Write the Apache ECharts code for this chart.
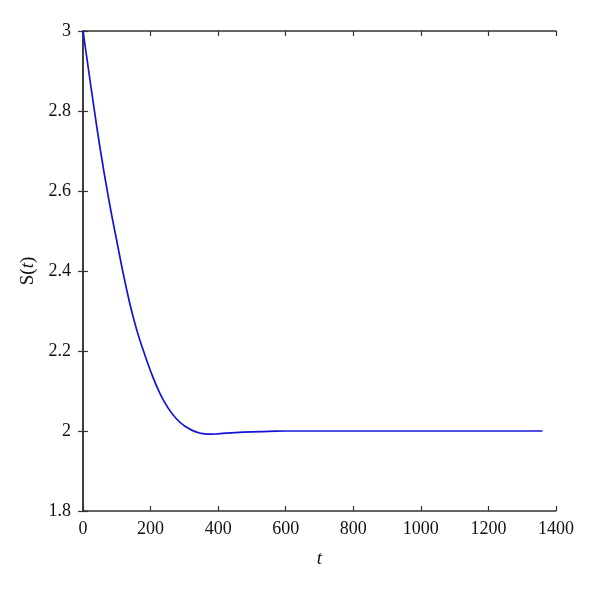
<!DOCTYPE html>
<html>
<head>
<meta charset="utf-8">
<script src="https://cdn.jsdelivr.net/npm/echarts@6/dist/echarts.min.js"></script>
<style>html,body{margin:0;padding:0;background:#fff}#c{width:600px;height:590px}</style>
</head>
<body>
<div id="c"></div>
<script>
const tValues = [0, 25, 50, 75, 100, 125, 150, 175, 200, 225, 250, 275, 300, 325, 350, 370, 400, 450, 500, 550, 600, 650, 700, 800, 900, 1000, 1100, 1200, 1300, 1360];
const sValues = [3.0, 2.852, 2.71, 2.585, 2.475, 2.37, 2.28, 2.21, 2.15, 2.099, 2.06, 2.032, 2.013, 2.001, 1.994, 1.992, 1.993, 1.996, 1.998, 1.999, 2.0, 2.0, 2.0, 2.0, 2.0, 2.0, 2.0, 2.0, 2.0, 2.0];
const xTicks = [0, 200, 400, 600, 800, 1000, 1200, 1400];
const yTicks = [1.8, 2, 2.2, 2.4, 2.6, 2.8, 3];

const data = tValues.map((t, i) => [t, sValues[i]]);
const font = '"Liberation Serif", "DejaVu Serif", serif';
const axisLine = {show: true, lineStyle: {color: '#333', width: 1.5}};
const axisTick = {show: true, inside: true, length: 5, lineStyle: {color: '#333', width: 1.2}};

const chart = echarts.init(document.getElementById('c'));
chart.setOption({
  animation: false,
  backgroundColor: '#fff',
  grid: {left: 83, right: 44, top: 31, bottom: 79},
  xAxis: [{
    type: 'value', min: 0, max: 1400, interval: 200,
    axisLine, axisTick, splitLine: {show: false},
    axisLabel: {fontFamily: font, fontSize: 18, color: '#111', margin: 9,
      formatter: v => xTicks.includes(v) ? String(v) : ''},
    name: 't', nameLocation: 'middle', nameGap: 38,
    nameTextStyle: {fontFamily: font, fontSize: 19, fontStyle: 'italic', color: '#111'}
  }, {
    type: 'value', min: 0, max: 1400, interval: 200, position: 'top',
    axisLine, axisTick, axisLabel: {show: false}, splitLine: {show: false}
  }],
  yAxis: [{
    type: 'value', min: 1.8, max: 3, interval: 0.2,
    axisLine, axisTick, splitLine: {show: false},
    axisLabel: {fontFamily: font, fontSize: 18, color: '#111', margin: 12,
      formatter: v => { const r = Math.round(v * 10) / 10; return yTicks.includes(r) ? String(r) : ''; }},
    name: '{a|S(}{b|t}{a|)}', nameLocation: 'middle', nameGap: 38, nameRotate: 90,
    nameTextStyle: {rich: {
      a: {fontFamily: font, fontSize: 19, color: '#111'},
      b: {fontFamily: font, fontSize: 19, fontStyle: 'italic', color: '#111'}
    }}
  }, {
    type: 'value', min: 1.8, max: 3, interval: 0.2, position: 'right',
    axisLine, axisTick, axisLabel: {show: false}, splitLine: {show: false}
  }],
  series: [{
    type: 'line', data, smooth: true, showSymbol: false,
    lineStyle: {color: '#1414d8', width: 1.7}
  }]
});
</script>
</body>
</html>
